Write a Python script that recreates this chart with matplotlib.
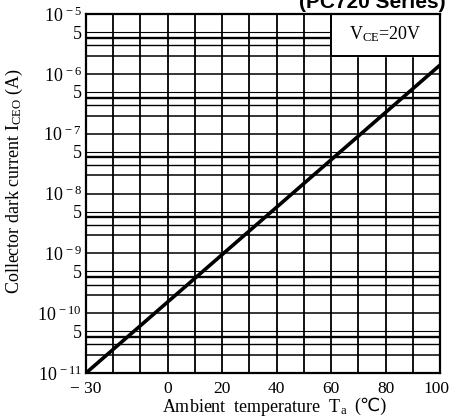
import matplotlib
matplotlib.use("Agg")
import matplotlib.pyplot as plt
import matplotlib.transforms as mtransforms
import numpy as np

plt.rcParams['font.family'] = ['Liberation Serif', 'DejaVu Sans']
plt.rcParams['mathtext.fontset'] = 'custom'
plt.rcParams['mathtext.rm'] = 'Liberation Serif'
plt.rcParams['mathtext.it'] = 'Liberation Serif:italic'

# Dark current vs ambient temperature (straight line on log scale)
temp_c = [-30, 100]
dark_current_a = [1.0e-11, 1.4e-6]

x_ticks = [-30, 0, 20, 40, 60, 80, 100]
x_tick_labels = ['\u2212 30', '0', '20', '40', '60', '80', '100']
y_decades = [1e-11, 1e-10, 1e-9, 1e-8, 1e-7, 1e-6, 1e-5]
y_decade_labels = [r'$10^{\,-11}$', r'$10^{\,-10}$', r'$10^{\,-9}$', r'$10^{\,-8}$',
                   r'$10^{\,-7}$', r'$10^{\,-6}$', r'$10^{\,-5}$']

W, H = 450, 420
fig = plt.figure(figsize=(4.5, 4.2), dpi=100)
ax = fig.add_axes([86/W, 1 - 373/H, (440-86)/W, (373-14)/H])
ax.set_yscale('log')
ax.set_xlim(-30, 100)
ax.set_ylim(1e-11, 1e-5)

# grid: verticals every 10 degC, horizontals at 1..5 within each decade
for t in range(-20, 100, 10):
    ax.axvline(t, color='black', lw=1.3, zorder=1)
for d in y_decades[:-1]:
    ax.axhline(d, color='black', lw=1.1, zorder=1)
    for m, w in [(2, 1.1), (3, 1.0), (4, 1.7), (5, 0.8)]:
        ax.axhline(d * m, color='black', lw=w, zorder=1)

ax.plot(temp_c, dark_current_a, color='black', lw=2.6, solid_capstyle='butt', zorder=3)

for s in ax.spines.values():
    s.set_linewidth(1.6)

ax.set_xticks(x_ticks)
ax.set_xticklabels(x_tick_labels)
ax.set_xticks([], minor=True)
ticks = []
labels = []
for d, lab in zip(y_decades, y_decade_labels):
    ticks.append(d)
    labels.append(lab)
    if d < 1e-5:
        ticks.append(d * 5)
        labels.append('5')
ax.set_yticks(ticks)
ax.set_yticklabels(labels)
ax.yaxis.set_minor_locator(matplotlib.ticker.NullLocator())
ax.tick_params(axis='y', length=0, labelsize=13, colors='black', pad=3)
ax.tick_params(axis='x', length=0, labelsize=12.5, colors='black', pad=6)

# keep the last x label inside the figure
last = ax.get_xticklabels()[-1]
last.set_transform(last.get_transform() + mtransforms.ScaledTranslation(-4/100, 0, fig.dpi_scale_trans))

# x-axis title: math part plus the degree-Celsius sign in a font that has it
fig.text(348/W, 1 - 407/H, 'Ambient  temperature  T$_{\\rm a}$', ha='right', va='center',
         fontsize=13)
fig.text(354/W, 1 - 406/H, '(\u2103)', ha='left', va='center', fontsize=13,
         family=['Liberation Serif', 'DejaVu Sans'])

ax.set_ylabel('Collector dark current I$_{\\rm CEO}$ (A)', fontsize=13)
ax.yaxis.set_label_coords(-(86-25)/354, (373-181)/359)

# condition box in the upper right corner
ax.fill_between([60, 100], 2.0e-6, 1e-5, color='white', zorder=2)
ax.plot([60, 60, 100], [1e-5, 2.0e-6, 2.0e-6], color='black', lw=1.4, zorder=2)
ax.text(80, 4.6e-6, 'V$_{\\rm CE}$=20V', ha='center', va='center', fontsize=13, zorder=4)

fig.text(446/W, 1 - 8/H, '(PC720 Series)', ha='right', va='baseline',
         fontsize=15, fontweight='bold', family='Liberation Sans')

fig.savefig('out.png', dpi=100)
